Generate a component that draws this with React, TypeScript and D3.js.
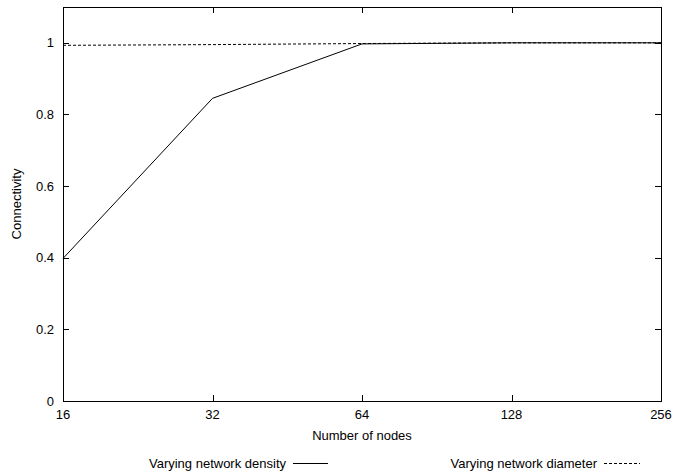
import React from "react";
import * as d3 from "d3";

// Network sizes on the x axis and connectivity per experiment
const nodes = [16, 32, 64, 128, 256];
const densitySeries = [0.398, 0.845, 0.997, 1.0, 1.0];
const diameterSeries = [0.993, 0.995, 0.998, 1.0, 1.0];
const yTicks = [0, 0.2, 0.4, 0.6, 0.8, 1];
const yTickLabels = ["0", "0.2", "0.4", "0.6", "0.8", "1"];

const W = 674;
const H = 475;
const margin = { left: 63, right: 13, top: 7, bottom: 74 };
const FONT = "'Liberation Sans', Arial, Helvetica, sans-serif";

export default function App() {
  const x = d3
    .scaleLog()
    .base(2)
    .domain([16, 256])
    .range([margin.left, W - margin.right]);
  const y = d3
    .scaleLinear()
    .domain([0, 1.1])
    .range([H - margin.bottom, margin.top]);

  const x0 = x.range()[0];
  const x1 = x.range()[1];
  const yb = y.range()[0];
  const yt = y.range()[1];
  const tick = 6;

  const line = d3
    .line<[number, number]>()
    .x((d) => x(d[0]))
    .y((d) => y(d[1]));

  const densityPath = line(nodes.map((n, i) => [n, densitySeries[i]]));
  const diameterPath = line(nodes.map((n, i) => [n, diameterSeries[i]]));

  const legendY = 463;

  return (
    <svg
      width={W}
      height={H}
      style={{ position: "absolute", left: 0, top: 0, background: "#fff" }}
      fontFamily={FONT}
      fontSize={13}
    >
      <rect x={0} y={0} width={W} height={H} fill="#fff" />
      <g stroke="#000" strokeWidth={1} shapeRendering="crispEdges">
        {yTicks.map((t) => (
          <g key={"y" + t}>
            <line x1={x0} x2={x0 + tick} y1={Math.round(y(t)) + 0.5} y2={Math.round(y(t)) + 0.5} />
            <line x1={x1} x2={x1 - tick} y1={Math.round(y(t)) + 0.5} y2={Math.round(y(t)) + 0.5} />
          </g>
        ))}
        {nodes.map((n) => (
          <g key={"x" + n}>
            <line x1={Math.round(x(n)) + 0.5} x2={Math.round(x(n)) + 0.5} y1={yb} y2={yb - tick} />
            <line x1={Math.round(x(n)) + 0.5} x2={Math.round(x(n)) + 0.5} y1={yt} y2={yt + tick} />
          </g>
        ))}
      </g>
      <path d={densityPath ?? ""} fill="none" stroke="#000" strokeWidth={1} />
      <path
        d={diameterPath ?? ""}
        fill="none"
        stroke="#000"
        strokeWidth={1}
        strokeDasharray="3,2"
      />
      <rect
        x={x0 + 0.5}
        y={yt + 0.5}
        width={x1 - x0}
        height={yb - yt}
        fill="none"
        stroke="#000"
        strokeWidth={1}
        shapeRendering="crispEdges"
      />
      {yTicks.map((t, i) => (
        <text key={"yl" + t} x={54} y={y(t)} textAnchor="end" dominantBaseline="central" fill="#000">
          {yTickLabels[i]}
        </text>
      ))}
      {nodes.map((n) => (
        <text key={"xl" + n} x={x(n)} y={419} textAnchor="middle" fill="#000">
          {n}
        </text>
      ))}
      <text x={(x0 + x1) / 2} y={440} textAnchor="middle" fill="#000">
        Number of nodes
      </text>
      <text
        transform={`translate(21,${(yb + yt) / 2}) rotate(-90)`}
        textAnchor="middle"
        fill="#000"
      >
        Connectivity
      </text>
      <text x={286} y={legendY + 4.5} textAnchor="end" fill="#000">
        Varying network density
      </text>
      <line x1={293} x2={328} y1={legendY + 0.5} y2={legendY + 0.5} stroke="#000" strokeWidth={1} />
      <text x={597} y={legendY + 4.5} textAnchor="end" fill="#000">
        Varying network diameter
      </text>
      <line
        x1={604}
        x2={640}
        y1={legendY + 0.5}
        y2={legendY + 0.5}
        stroke="#000"
        strokeWidth={1}
        strokeDasharray="3,2"
      />
    </svg>
  );
}
